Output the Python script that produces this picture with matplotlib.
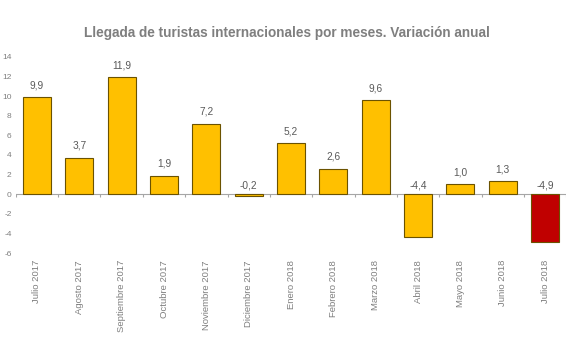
import numpy as np
import matplotlib
matplotlib.use("Agg")
import matplotlib.pyplot as plt

plt.rcParams['font.family'] = ['Liberation Sans', 'DejaVu Sans']

meses = ["Julio 2017", "Agosto 2017", "Septiembre 2017", "Octubre 2017",
         "Noviembre 2017", "Diciembre 2017", "Enero 2018", "Febrero 2018",
         "Marzo 2018", "Abril 2018", "Mayo 2018", "Junio 2018", "Julio 2018"]
variacion = [9.9, 3.7, 11.9, 1.9, 7.2, -0.2, 5.2, 2.6, 9.6, -4.4, 1.0, 1.3, -4.9]
y_ticks = [-6, -4, -2, 0, 2, 4, 6, 8, 10, 12, 14]

amarillo = '#FFC000'
rojo = '#C00000'
gris = '#7F7F7F'

fig = plt.figure(figsize=(5.85, 3.51), dpi=100)
ax = fig.add_axes([0.027, 0.279, 0.941, 0.559])

x = np.arange(len(meses))
colores = [amarillo] * (len(meses) - 1) + [rojo]
ax.bar(x, variacion, width=0.66, color=colores, edgecolor='#6B5200', linewidth=0.8, zorder=3)

# etiquetas de valor (las negativas van encima del eje)
for xi, v in zip(x, variacion):
    ypos = v if v > 0 else 0
    off = 5 if v > 0 else 3
    ax.annotate(f"{v:.1f}".replace('.', ','), (xi, ypos), xytext=(0, off),
                textcoords='offset points', ha='center', va='bottom',
                fontsize=7.3, color='#595959')

# linea de cero con marcas entre categorias
ax.axhline(0, color='#A6A6A6', linewidth=0.8, zorder=2)
bordes = np.arange(len(meses) + 1) - 0.5
ax.vlines(bordes, -0.3, 0, color='#A6A6A6', linewidth=0.8, zorder=2)

ax.set_xlim(-0.5, len(meses) - 0.5)
ax.set_ylim(-6, 14)
ax.set_yticks(y_ticks)
ax.set_yticklabels([str(t) for t in y_ticks])
ax.set_xticks(x)
ax.set_xticklabels(meses, rotation=90, va='top', ha='center')
ax.tick_params(axis='both', length=0, labelcolor=gris)
ax.tick_params(axis='x', pad=5, labelsize=6.8)
ax.tick_params(axis='y', pad=3, labelsize=6)
for s in ax.spines.values():
    s.set_visible(False)

fig.text(0.49, 0.905, "Llegada de turistas internacionales por meses. Variación anual",
         ha='center', va='center', fontsize=9.8, fontweight='bold', color=gris)

fig.savefig("out.png", dpi=100)
